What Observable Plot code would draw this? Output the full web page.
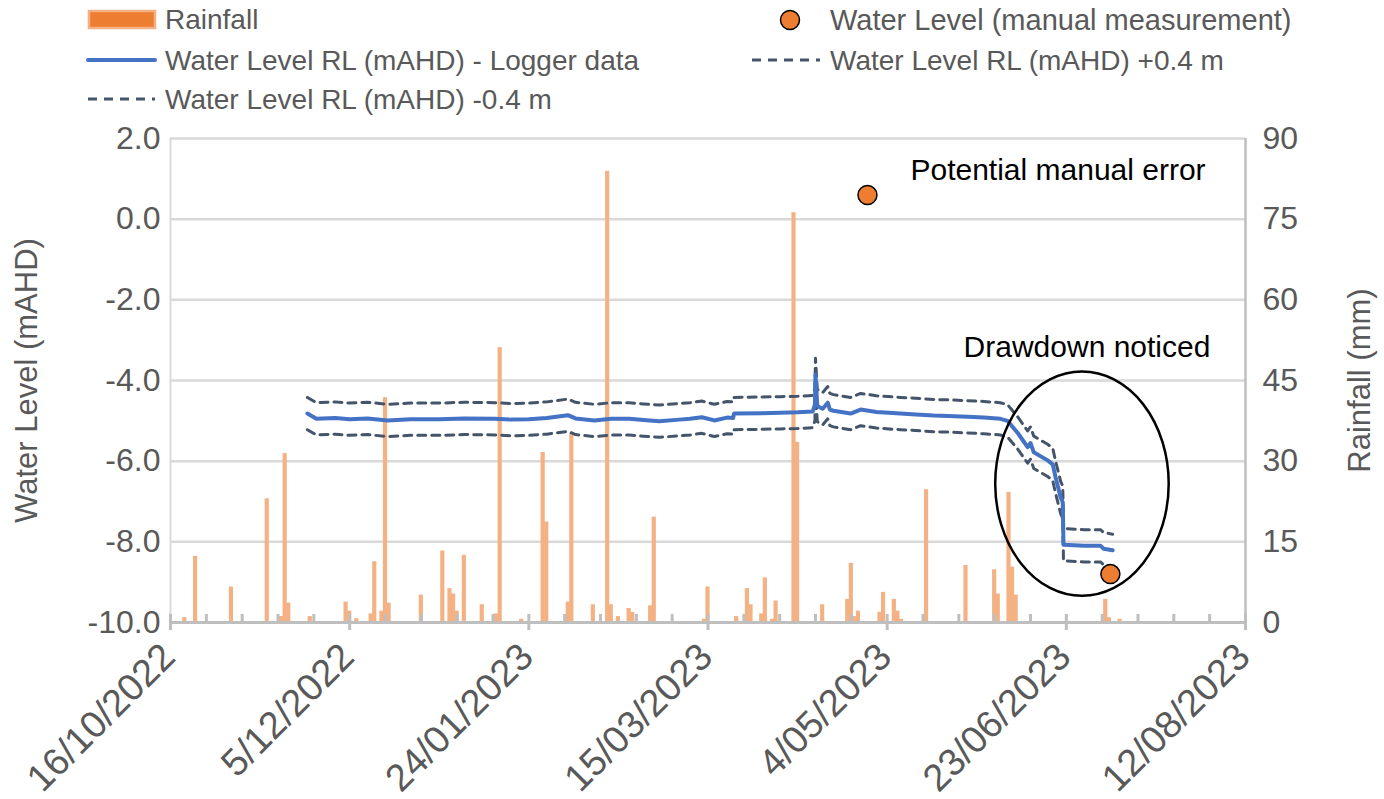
<!DOCTYPE html>
<html>
<head>
<meta charset="utf-8">
<script src="https://cdn.jsdelivr.net/npm/d3@7"></script>
<script src="https://cdn.jsdelivr.net/npm/@observablehq/plot@0.6"></script>
<style>
  html, body { margin: 0; padding: 0; background: #fff; }
  #wrap { width: 1384px; height: 799px; position: relative; overflow: hidden; font-family: "Liberation Sans", Arial, sans-serif; }
  #legend { display: block; }
</style>
</head>
<body>
<div id="wrap">
  <svg id="legend" width="1384" height="118"></svg>
  <div id="chart"></div>
</div>
<script>
// ---------- data ----------
const xStart = "2022-10-16";
const xEnd = "2023-08-12";

const rainDates = ["2022-10-20","2022-10-23","2022-11-02","2022-11-12","2022-11-16","2022-11-17","2022-11-18","2022-11-24","2022-12-04","2022-12-05","2022-12-07","2022-12-11","2022-12-12","2022-12-14","2022-12-15","2022-12-16","2022-12-25","2022-12-31","2023-01-02","2023-01-03","2023-01-04","2023-01-06","2023-01-11","2023-01-15","2023-01-16","2023-01-22","2023-01-28","2023-01-29","2023-02-04","2023-02-05","2023-02-11","2023-02-15","2023-02-16","2023-02-18","2023-02-21","2023-02-22","2023-02-27","2023-02-28","2023-03-14","2023-03-15","2023-03-23","2023-03-26","2023-03-27","2023-03-30","2023-03-31","2023-04-02","2023-04-03","2023-04-08","2023-04-09","2023-04-16","2023-04-23","2023-04-24","2023-04-25","2023-04-26","2023-05-02","2023-05-03","2023-05-06","2023-05-07","2023-05-08","2023-05-15","2023-05-26","2023-06-03","2023-06-04","2023-06-07","2023-06-08","2023-06-09","2023-07-04","2023-07-05","2023-07-08"];
const rainValues = [0.9,12.3,6.6,23.0,1.1,31.4,3.6,1.1,3.8,2.1,0.7,1.6,11.3,2.1,41.8,3.6,5.1,13.3,6.3,5.3,2.1,12.5,3.3,1.6,51.1,0.6,31.6,18.7,3.8,35.1,3.3,83.9,3.3,1.1,2.6,1.9,3.1,19.6,0.6,6.6,1.1,6.3,3.3,1.6,8.3,0.6,4.0,76.2,33.5,3.3,4.3,11.0,1.1,2.1,1.9,5.6,4.3,2.1,0.6,24.7,10.6,9.8,5.3,24.2,10.3,5.1,4.3,0.9,0.6];

const loggerTimes = ["2022-11-23T05:00","2022-11-25T17:00","2022-12-01T00:00","2022-12-05T00:00","2022-12-10T00:00","2022-12-15T14:00","2022-12-22T00:00","2022-12-30T00:00","2023-01-06T00:00","2023-01-14T10:00","2023-01-19T00:00","2023-01-24T00:00","2023-01-29T00:00","2023-02-03T22:00","2023-02-06T00:00","2023-02-11T07:00","2023-02-16T00:00","2023-02-21T00:00","2023-02-25T00:00","2023-03-01T10:00","2023-03-07T00:00","2023-03-10T00:00","2023-03-13T07:00","2023-03-16T19:00","2023-03-20T07:00","2023-03-22T00:00","2023-03-22T07:00","2023-03-30T00:00","2023-04-04T05:00","2023-04-09T00:00","2023-04-13T05:00","2023-04-13T20:00","2023-04-14T00:00","2023-04-14T12:00","2023-04-15T06:00","2023-04-16T00:00","2023-04-17T10:00","2023-04-18T00:00","2023-04-19T00:00","2023-04-23T19:00","2023-04-26T14:00","2023-05-01T00:00","2023-05-07T17:00","2023-05-12T00:00","2023-05-17T00:00","2023-05-21T00:00","2023-05-26T10:00","2023-05-31T00:00","2023-06-04T14:00","2023-06-06T14:00","2023-06-09T10:00","2023-06-11T00:00","2023-06-12T05:00","2023-06-13T00:00","2023-06-13T22:00","2023-06-17T19:00","2023-06-19T05:00","2023-06-20T00:00","2023-06-21T10:00","2023-06-22T00:00","2023-06-22T05:00","2023-06-28T00:00","2023-07-02T14:00","2023-07-03T10:00","2023-07-05T22:00"];
const loggerLevels = [-4.82,-4.95,-4.93,-4.96,-4.94,-4.99,-4.96,-4.96,-4.94,-4.95,-4.97,-4.96,-4.93,-4.86,-4.94,-4.99,-4.95,-4.95,-4.98,-5.01,-4.97,-4.95,-4.91,-4.99,-4.92,-4.93,-4.82,-4.81,-4.80,-4.79,-4.77,-4.6,-3.85,-4.62,-4.67,-4.70,-4.55,-4.72,-4.75,-4.82,-4.72,-4.78,-4.82,-4.84,-4.87,-4.88,-4.90,-4.92,-4.95,-5.00,-5.30,-5.50,-5.65,-5.55,-5.78,-5.98,-6.08,-6.40,-6.90,-7.02,-8.07,-8.10,-8.10,-8.17,-8.21];

const bandOffset = 0.4; // the +/-0.4 m envelope named in the legend

const manualDates = ["2023-04-28T12:00","2023-07-05T07:00"];
const manualLevels = [0.6, -8.8];

const yTicks = [-10, -8, -6, -4, -2, 0, 2];
const rainTicks = [0, 15, 30, 45, 60, 75, 90];
const xTickDates = ["2022-10-16","2022-12-05","2023-01-24","2023-03-15","2023-05-04","2023-06-23","2023-08-12"];

const annotations = [
  {t: "2023-05-10T12:00", v: 1.21, label: "Potential manual error"},
  {t: "2023-05-25T08:00", v: -3.18, label: "Drawdown noticed"}
];
const ellipseSpec = {t: "2023-06-27T12:00", v: -6.57, rxDays: 24.2, ryMetres: 2.78};

// ---------- helpers ----------
const parse = s => new Date(s.length === 10 ? s + "T00:00:00Z" : s + ":00Z");
const yMin = -10, yMax = 2, rainMax = 90;
const rainToLevel = r => yMin + r * (yMax - yMin) / rainMax;
const levelToRain = v => (v - yMin) * rainMax / (yMax - yMin);

const rain = rainDates.map((d, i) => ({date: parse(d), rain: rainValues[i]}));
const logger = loggerTimes.map((d, i) => ({t: parse(d), v: loggerLevels[i]}));
const manual = manualDates.map((d, i) => ({t: parse(d), v: manualLevels[i]}));
const xTicks = xTickDates.map(parse);
const x0 = parse(xStart), x1 = parse(xEnd);
const minorTicks = d3.range(10, 300, 10).filter(k => k % 50 !== 0).map(k => d3.utcDay.offset(x0, k));
const fmtDate = d3.utcFormat("%-d/%m/%Y");
const ann = annotations.map(a => ({...a, t: parse(a.t)}));

const textColor = "#595959";
const FONT = "Liberation Sans, Arial, sans-serif";

// ---------- legend ----------
const lg = d3.select("#legend").style("font-family", FONT);
const legendText = (x, y, s, size) => lg.append("text").attr("x", x).attr("y", y).attr("dy", "0.35em")
  .attr("font-size", size || 28).attr("fill", textColor).text(s);
lg.append("rect").attr("x", 89).attr("y", 11).attr("width", 66).attr("height", 17)
  .attr("fill", "#ed7d31").attr("stroke", "#f4b183").attr("stroke-width", 2.5);
legendText(165, 19, "Rainfall");
lg.append("line").attr("x1", 88).attr("x2", 155).attr("y1", 60).attr("y2", 60)
  .attr("stroke", "#4472c4").attr("stroke-width", 4).attr("stroke-linecap", "round");
legendText(165, 60, "Water Level RL (mAHD) - Logger data");
lg.append("line").attr("x1", 88).attr("x2", 155).attr("y1", 99).attr("y2", 99)
  .attr("stroke", "#44546a").attr("stroke-width", 3).attr("stroke-dasharray", "9,7");
legendText(165, 99, "Water Level RL (mAHD) -0.4 m");
lg.append("circle").attr("cx", 790).attr("cy", 20).attr("r", 9.5)
  .attr("fill", "#ed7d31").attr("stroke", "#000").attr("stroke-width", 1.5);
legendText(830, 20, "Water Level (manual measurement)", 29);
lg.append("line").attr("x1", 752).attr("x2", 820).attr("y1", 60).attr("y2", 60)
  .attr("stroke", "#44546a").attr("stroke-width", 3).attr("stroke-dasharray", "9,7");
legendText(830, 60, "Water Level RL (mAHD) +0.4 m");

// ---------- chart ----------
const ellipseMark = (index, scales) => {
  const cx = scales.x(parse(ellipseSpec.t));
  const cy = scales.y(ellipseSpec.v);
  const rx = scales.x(d3.utcHour.offset(parse(ellipseSpec.t), Math.round(ellipseSpec.rxDays * 24))) - cx;
  const ry = scales.y(ellipseSpec.v - ellipseSpec.ryMetres) - cy;
  const e = d3.create("svg:ellipse")
    .attr("cx", cx).attr("cy", cy).attr("rx", rx).attr("ry", ry)
    .attr("fill", "none").attr("stroke", "#000").attr("stroke-width", 2.5);
  return e.node();
};

const chart = Plot.plot({
  width: 1384,
  height: 681,
  marginLeft: 170,
  marginRight: 139,
  marginTop: 20,
  marginBottom: 177,
  style: {fontFamily: FONT, color: textColor, background: "white", overflow: "visible"},
  x: {type: "utc", domain: [x0, x1], axis: null},
  y: {domain: [yMin, yMax], axis: null},
  marks: [
    // gridlines and frame edges
    Plot.ruleY(yTicks.filter(v => v > yMin), {stroke: "#d9d9d9", strokeWidth: 2.5}),
    Plot.ruleX([x0], {stroke: "#d9d9d9", strokeWidth: 2}),
    Plot.ruleX([x1], {stroke: "#bfbfbf", strokeWidth: 2.5}),
    // rainfall bars (secondary axis mapped onto the level scale)
    Plot.rect(rain, {
      x1: d => d3.utcHour.offset(d.date, -14),
      x2: d => d3.utcHour.offset(d.date, 14),
      y1: yMin,
      y2: d => rainToLevel(d.rain),
      fill: "#f4b183"
    }),
    // minor / major ticks and bottom axis
    Plot.ruleX(minorTicks, {y1: yMin, y2: yMin + 0.2, stroke: "#bfbfbf", strokeWidth: 3}),
    Plot.ruleX(xTicks, {y1: yMin - 0.2, y2: yMin + 0.2, stroke: "#bfbfbf", strokeWidth: 3}),
    Plot.ruleY([yMin], {stroke: "#bfbfbf", strokeWidth: 3}),
    // +/- envelope and logger line
    Plot.line(logger, {x: "t", y: d => d.v + bandOffset, stroke: "#44546a", strokeWidth: 3, strokeDasharray: "8,6"}),
    Plot.line(logger, {x: "t", y: d => d.v - bandOffset, stroke: "#44546a", strokeWidth: 3, strokeDasharray: "8,6"}),
    Plot.line(logger, {x: "t", y: "v", stroke: "#4472c4", strokeWidth: 4}),
    // manual measurements
    Plot.dot(manual, {x: "t", y: "v", r: 9.5, fill: "#ed7d31", stroke: "#000", strokeWidth: 1.5}),
    // annotation ellipse
    ellipseMark,
    // annotations
    Plot.text(ann, {x: "t", y: "v", text: "label", textAnchor: "start", fontSize: 30, fill: "#000"}),
    // left axis
    Plot.axisY(yTicks, {anchor: "left", tickSize: 0, tickPadding: 10, fontSize: 32, tickFormat: v => v.toFixed(1), label: null}),
    // right axis (rainfall)
    Plot.axisY(rainTicks.map(rainToLevel), {anchor: "right", tickSize: 0, tickPadding: 17, fontSize: 32, tickFormat: v => String(Math.round(levelToRain(v))), label: null}),
    // x tick labels
    Plot.text(xTicks, {x: d => d, frameAnchor: "bottom", text: d => fmtDate(d), rotate: -45, textAnchor: "end", lineAnchor: "middle", fontSize: 38, dx: -2, dy: 28, fill: textColor}),
    // axis titles
    Plot.text(["Water Level (mAHD)"], {frameAnchor: "left", text: d => d, rotate: -90, textAnchor: "middle", dx: -143, fontSize: 31, fill: textColor}),
    Plot.text(["Rainfall (mm)"], {frameAnchor: "right", text: d => d, rotate: -90, textAnchor: "middle", dx: 115, fontSize: 31, fill: textColor})
  ]
});
document.getElementById("chart").appendChild(chart);
</script>
</body>
</html>
